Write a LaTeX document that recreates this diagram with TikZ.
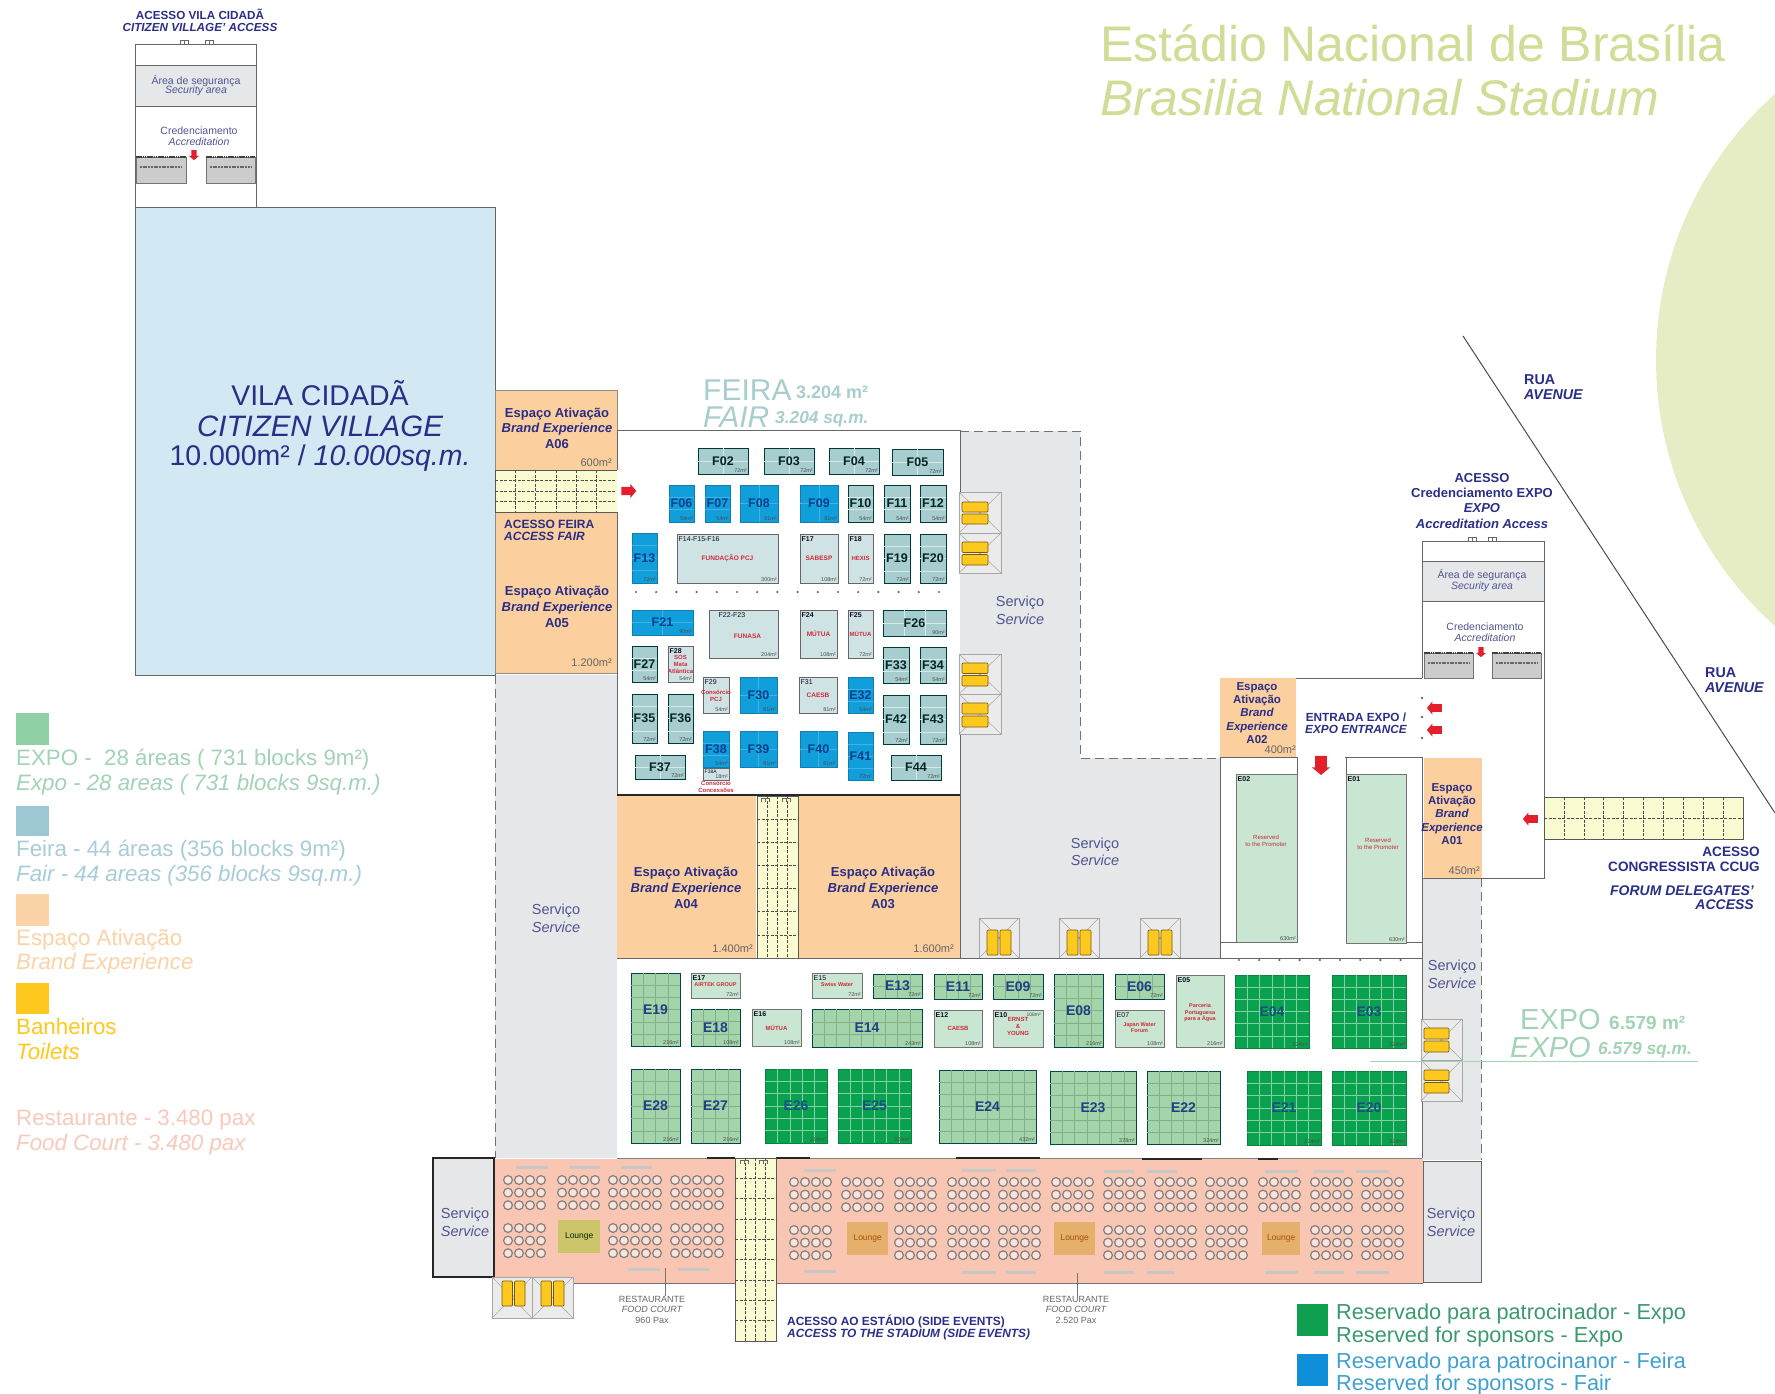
\documentclass[tikz,border=0pt]{standalone}
\usepackage{fontspec}
\setmainfont{Liberation Sans}
\usetikzlibrary{shapes.arrows}
\definecolor{navyc}{HTML}{2A2E86}
\definecolor{svcc}{HTML}{4F5591}
\definecolor{titlec}{HTML}{CFDD96}
\definecolor{circc}{HTML}{E6ECC4}
\definecolor{greyc}{HTML}{E6E7E9}
\definecolor{wallc}{HTML}{666666}
\definecolor{orangec}{HTML}{FBCF9E}
\definecolor{villc}{HTML}{D2E9F3}
\definecolor{pinkc}{HTML}{F9C6B3}
\definecolor{crossc}{HTML}{FBFBD2}
\definecolor{wcc}{HTML}{FFC81E}
\definecolor{redc}{HTML}{E2202C}
\definecolor{redt}{HTML}{CF2A3A}
\newcommand\szf[1]{\fontsize{#1}{#1}\selectfont\setlength\baselineskip{1.17\dimexpr#1pt\relax}}
\tikzset{
 x=1pt,y=-1pt,
 navb/.style={text=navyc,inner sep=0pt,align=center,font={\szf{#1}\bfseries}},
 navi/.style={text=navyc,inner sep=0pt,align=center,font={\szf{#1}\bfseries\itshape}},
 svc/.style={text=svcc,inner sep=0pt,align=center,font={\szf{#1}}},
 svci/.style={text=svcc,inner sep=0pt,align=center,font={\szf{#1}\itshape}},
 arealab/.style={text=black!70,inner sep=0pt,font={\szf{#1}}},
 redl/.style={text=redt,inner sep=0pt,align=center,font={\szf{#1}\bfseries}},
 wall/.style={draw=wallc,line width=1pt},
 dashedge/.style={draw=black!55,line width=1pt,dash pattern=on 9pt off 5pt},
 fairS/.style={fill=fairsc,draw=black!55!teal,line width=.8pt},
 fairSgrid/.style={draw=white!55!fairsc,line width=.5pt},
 fairSlbl/.style={text=black!70!teal,inner sep=0pt,font={\szf{12.5}\bfseries}},
 fairB/.style={fill=fairbc,draw=fairbc!80!black,line width=.8pt},
 fairBgrid/.style={draw=fairbc!80!white,line width=.4pt},
 fairBlbl/.style={text=black!40!blue!50!teal,inner sep=0pt,font={\szf{12.5}\bfseries}},
 fairL/.style={fill=fairlc,draw=black!60,line width=.8pt},
 fairLgrid/.style={},
 fairLlbl/.style={},
 expoM/.style={fill=expomc,draw=black!45!teal,line width=.7pt},
 expoMgrid/.style={draw=expomc!82!black,line width=.35pt},
 expoMlbl/.style={text=navyc!80!teal,inner sep=0pt,font={\szf{14}\bfseries}},
 expoD/.style={fill=expodc,draw=expodc!80!black,line width=.7pt},
 expoDgrid/.style={draw=white!50!expodc,line width=.45pt},
 expoDlbl/.style={text=navyc!60!teal,inner sep=0pt,font={\szf{14}\bfseries}},
 expoL/.style={fill=expolc,draw=black!55,line width=.7pt},
 expoLgrid/.style={},
 expoLlbl/.style={},
 redarrow/.style={single arrow,fill=redc,draw=none,inner sep=0pt,text width=#1,text height=#1,text depth=0pt,single arrow head extend=2.5pt,single arrow tip angle=100},
 crossbox/.style={fill=crossc,draw=black!65,line width=.6pt},
 crossline/.style={draw=black!70,line width=.6pt,dash pattern=on 3pt off 1.5pt},
 wcbox/.style={fill=white!92!black,draw=black!35,line width=.6pt},
 wcline/.style={draw=black!35,line width=.5pt},
 wcfill/.style={fill=wcc,draw=black!55!wcc,line width=.7pt,rounded corners=1pt},
 tableC/.style={draw=black!50,fill=pinkc!50!white,line width=1.2pt},
 barc/.style={fill=black!22,draw=none},
 loungeA/.style={fill=loungea,draw=none,text=black!60!green!40!black,font={\szf{8.5}}},
 loungeB/.style={fill=loungeb,draw=none,text=black!35!orange,font={\szf{8.5}}},
 leader/.style={draw=black!55,line width=.6pt},
 ticketb/.style={fill=black!20,draw=black!55,line width=.6pt},
 legsq/.style={draw=none,inner sep=0pt,anchor=north west},
 legt/.style={inner sep=0pt,anchor=west,font={\szf{22.3}}},
 legi/.style={inner sep=0pt,anchor=west,font={\szf{22.3}\itshape}},
 legb/.style={inner sep=0pt,anchor=west,font={\szf{21.7}}},
}
\definecolor{fairsc}{HTML}{A8CDCF}
\definecolor{fairbc}{HTML}{119FDC}
\definecolor{fairlc}{HTML}{D0E3E4}
\definecolor{expomc}{HTML}{A3D4AA}
\definecolor{expodc}{HTML}{0AA24E}
\definecolor{expolc}{HTML}{C8E6D1}
\definecolor{loungea}{HTML}{CDC569}
\definecolor{loungeb}{HTML}{E5AF6C}
\definecolor{legexpo}{HTML}{8FD0A5}
\definecolor{legexpot}{HTML}{A2D3B5}
\definecolor{legfair}{HTML}{9CC7D3}
\definecolor{legfairt}{HTML}{A8CCD8}
\definecolor{legor}{HTML}{FBD3A6}
\definecolor{legrest}{HTML}{F9C9BA}
\definecolor{resgt}{HTML}{3A9A6E}
\definecolor{resbt}{HTML}{3FA0D0}
\definecolor{resg}{HTML}{0E9F4F}
\definecolor{resb}{HTML}{0F8FD8}
% stand: name x0 y0 x1 y1 style step label area
\newcommand{\stand}[9]{%
 \pgfmathsetmacro{\sw}{#4-#2}\pgfmathsetmacro{\sh}{#5-#3}%
 \node[#6,anchor=north west,minimum width=\sw pt,minimum height=\sh pt,inner sep=0pt,outer sep=0pt] (#1) at (#2,#3) {};
 \ifnum#7>0
  \pgfmathsetmacro{\ys}{#7<20 ? #7 : #7/2}%
  \pgfmathtruncatemacro{\nc}{max(round(\sw/#7),1)}%
  \pgfmathtruncatemacro{\nr}{max(round(\sh/\ys),1)}%
  \foreach \i in {1,...,\nc}{\ifnum\i<\nc \pgfmathsetmacro{\xx}{#2+\i*\sw/\nc}\draw[#6grid] (\xx,#3) -- (\xx,#5);\fi}
  \foreach \i in {1,...,\nr}{\ifnum\i<\nr \pgfmathsetmacro{\yy}{#3+\i*\sh/\nr}\draw[#6grid] (#2,\yy) -- (#4,\yy);\fi}
  \node[#6lbl] (#1t) at (#1.center) {#8};
 \else
  \node[navb=7,anchor=north west,text=black!75!navyc] (#1t) at ([xshift=1.5pt,yshift=-2pt]#1.north west) {#8};
 \fi
 \node[arealab=5.5,anchor=south east] (#1a) at ([xshift=-1pt,yshift=1.5pt]#1.south east) {#9};
}
% crossing: name x0 y0 x1 y1 cols rows
\newcommand{\crossing}[7]{%
 \pgfmathsetmacro{\sw}{#4-#2}\pgfmathsetmacro{\sh}{#5-#3}%
 \node[crossbox,anchor=north west,minimum width=\sw pt,minimum height=\sh pt,inner sep=0pt,outer sep=0pt] (#1) at (#2,#3) {};
 \foreach \i in {1,...,#6}{\ifnum\i<#6 \pgfmathsetmacro{\xx}{#2+\i*\sw/#6}\draw[crossline] (\xx,#3) -- (\xx,#5);\fi}
 \foreach \i in {1,...,#7}{\ifnum\i<#7 \pgfmathsetmacro{\yy}{#3+\i*\sh/#7}\draw[crossline] (#2,\yy) -- (#4,\yy);\fi}
}
\newcommand{\wch}[9]{%
 \pgfmathsetmacro{\sw}{#4-#2}\pgfmathsetmacro{\sh}{#5-#3}%
 \node[wcbox,anchor=north west,minimum width=\sw pt,minimum height=\sh pt,inner sep=0pt,outer sep=0pt] (#1) at (#2,#3) {};
 \draw[wcline] (#1.north west) -- (#1.south east) (#1.north east) -- (#1.south west);
 \pgfmathsetmacro{\ym}{(#7+#9)/2}%
 \fill[wcfill] (#6,#7) rectangle (#8,\ym-1);
 \fill[wcfill] (#6,\ym+1) rectangle (#8,#9);
}
\newcommand{\wcv}[9]{%
 \pgfmathsetmacro{\sw}{#4-#2}\pgfmathsetmacro{\sh}{#5-#3}%
 \node[wcbox,anchor=north west,minimum width=\sw pt,minimum height=\sh pt,inner sep=0pt,outer sep=0pt] (#1) at (#2,#3) {};
 \draw[wcline] (#1.north west) -- (#1.south east) (#1.north east) -- (#1.south west);
 \pgfmathsetmacro{\xm}{(#6+#8)/2}%
 \fill[wcfill] (#6,#7) rectangle (\xm-1,#9);
 \fill[wcfill] (\xm+1,#7) rectangle (#8,#9);
}
% tables: x y cols (three rows)
\newcommand{\tbl}[3]{%
 \foreach \r in {0,1,2}{\foreach \c in {1,...,#3}{\draw[tableC] ({#1+(\c-1)*11+5},{#2+\r*12.6}) circle [radius=4.4];}}
}
\newcommand{\ticket}[5]{%
 \pgfmathsetmacro{\sw}{#4-#2}\pgfmathsetmacro{\sh}{#5-#3}%
 \node[ticketb,anchor=north west,minimum width=\sw pt,minimum height=\sh pt,inner sep=0pt,outer sep=0pt] (#1) at (#2,#3) {};
 \draw[black!75,line width=1.6pt,dash pattern=on 1.5pt off .7pt] (#1.north west) -- (#1.north east);
 \draw[black!60,line width=1.3pt,dash pattern=on 2pt off .7pt] ([xshift=4pt,yshift=-10pt]#1.north west) -- ([xshift=-4pt,yshift=-10pt]#1.north east);
}
\newcommand{\doors}[2]{%
 \draw[black!60,line width=.6pt] (#1,#2) -- (#1,#2-4) -- (#1+4,#2-4) -- (#1+4,#2) (#1+4,#2-4) -- (#1+8,#2-4) -- (#1+8,#2);
}
\begin{document}
\begin{tikzpicture}
\useasboundingbox (0,0) rectangle (1775,1393);
\fill[white] (0,0) rectangle (1775,1393);
% big circle
\begin{scope}
\clip (0,0) rectangle (1775,1393);
\fill[circc] (2013,360) circle [radius=357];
\end{scope}
% titles
\node[anchor=west,inner sep=0pt,text=titlec,font={\szf{50}}] (title1) at (1100,43) {Estádio Nacional de Brasília};
\node[anchor=west,inner sep=0pt,text=titlec,font={\szf{50}\itshape}] (title2) at (1100,98) {Brasilia National Stadium};
% avenue line
\coordinate (av1) at (1463,336); \coordinate (av2) at (1775,813);
\draw[black!70,line width=1pt] (av1) -- (av2);
\node[navb=14.3,align=left,anchor=west] (rua1a) at (1524,380) {RUA};
\node[navi=14.3,anchor=west] (rua1b) at (1524,395) {AVENUE};
\node[navb=14.3,anchor=west] (rua2a) at (1705,673) {RUA};
\node[navi=14.3,anchor=west] (rua2b) at (1705,688) {AVENUE};
% grey service
\fill[greyc] (495,675) rectangle (617,1158);
\fill[greyc] (960,431) -- (1080,431) -- (1080,758) -- (1220,758) -- (1220,958) -- (960,958) -- cycle;
\fill[greyc] (1422,878) rectangle (1481,1160);
\draw[dashedge] (495,675) -- (495,1158);
\draw[dashedge] (960,431) -- (1080,431) -- (1080,758) -- (1220,758);
\draw[dashedge] (1481,878) -- (1481,1160);
% citizen village & access
\node[fill=villc,draw=black!60,line width=.8pt,anchor=north west,minimum width=360pt,minimum height=468pt,inner sep=0pt,outer sep=0pt] (village) at (135,207) {};
\node[inner sep=0pt,text=navyc,font={\szf{28.5}}] (vill1) at (320,393) {VILA CIDADÃ};
\node[inner sep=0pt,text=navyc,font={\szf{29.5}\itshape}] (vill2) at (320,426) {CITIZEN VILLAGE};
\node[inner sep=0pt,text=navyc,font={\szf{28.5}}] (vill3) at (320,458) {10.000m² / \textit{10.000sq.m.}};
\draw[wall] (135,44) rectangle (256,207);
\node[fill=greyc,draw=black!60,line width=.8pt,anchor=north west,minimum width=121pt,minimum height=41pt,inner sep=0pt,outer sep=0pt] (sec1) at (135,65) {};
\node[svc=10.5] at (196,81) {Área de segurança};
\node[svci=10.5] at (196,91) {Security area};
\node[svc=10.5] at (199,131) {Credenciamento};
\node[svci=10.5] at (199,142) {Accreditation};
\ticket{tk1}{136}{157}{186}{183}
\ticket{tk2}{206}{157}{255}{183}
\node[redarrow=5pt,minimum height=10pt,minimum width=9pt,shape border rotate=270] (ar1) at (194,154) {};
\node[navb=11.7] (acc1) at (200,14) {ACESSO VILA CIDADÃ};
\node[navi=11.7] (acc2) at (200,27) {CITIZEN VILLAGE' ACCESS};
\doors{180}{44}\doors{205}{44}
% orange A06/A05
\node[fill=orangec,draw=black!45,line width=.6pt,anchor=north west,minimum width=122pt,minimum height=283pt,inner sep=0pt,outer sep=0pt] (a06) at (495,390) {};
\crossing{cr1}{495}{470}{617}{512}{6}{4}
\node[navb=13] at (557,414) {Espaço Ativação};
\node[navi=13] at (557,429) {Brand Experience};
\node[navb=13] at (557,444) {A06};
\node[svc=11,anchor=east,text=black!60] at (612,463) {600m²};
\node[navb=12,anchor=west] at (504,524) {ACESSO FEIRA};
\node[navi=12,anchor=west] at (504,536) {ACCESS FAIR};
\node[navb=13] at (557,592) {Espaço Ativação};
\node[navi=13] at (557,608) {Brand Experience};
\node[navb=13] at (557,623) {A05};
\node[svc=11,anchor=east,text=black!60] at (612,663) {1.200m²};
% fair floor
\node[fill=white,draw=none,anchor=north west,minimum width=343pt,minimum height=365pt,inner sep=0pt,outer sep=0pt] (fair) at (617,430) {};
\draw[wall] (617,430) -- (960,430) -- (960,500);
\draw[wall] (960,690) -- (960,958);
\draw[wall] (617,430) -- (617,470) (617,512) -- (617,958);
\node[redarrow=7pt,minimum height=15pt,minimum width=14pt] (ar2) at (627,491) {};
\node[anchor=west,inner sep=0pt,text=fairsc,font={\szf{30}}] (ft1) at (703,390) {FEIRA};
\node[anchor=west,inner sep=0pt,text=fairsc,font={\szf{18}\bfseries}] (ft1b) at (796,392) {3.204 m²};
\node[anchor=west,inner sep=0pt,text=fairsc,font={\szf{30}\itshape}] (ft2) at (703,417) {FAIR};
\node[anchor=west,inner sep=0pt,text=fairsc,font={\szf{17.3}\bfseries\itshape}] (ft2b) at (775,419) {3.204 sq.m.};
% fair stands
\stand{f02}{698}{448}{748}{474}{fairS}{25}{F02}{72m²}
\stand{f03}{764}{448}{814}{474}{fairS}{25}{F03}{72m²}
\stand{f04}{829}{448}{879}{474}{fairS}{25}{F04}{72m²}
\stand{f05}{892}{449}{943}{475}{fairS}{25}{F05}{72m²}
\stand{f06}{669}{485}{694}{522}{fairB}{25}{F06}{54m²}
\stand{f07}{705}{485}{730}{522}{fairB}{25}{F07}{54m²}
\stand{f08}{740}{485}{778}{522}{fairB}{19}{F08}{81m²}
\stand{f09}{800}{485}{838}{522}{fairB}{19}{F09}{81m²}
\stand{f10}{848}{485}{873}{522}{fairS}{25}{F10}{54m²}
\stand{f11}{884}{485}{910}{522}{fairS}{25}{F11}{54m²}
\stand{f12}{920}{485}{946}{522}{fairS}{25}{F12}{54m²}
\stand{f13}{632}{533}{657}{583}{fairB}{25}{F13}{72m²}
\stand{f14}{677}{534}{778}{583}{fairL}{0}{\mdseries F14-F15-F16}{300m²}
\node[redl=6.5] at (f14.center) {FUNDAÇÃO PCJ};
\stand{f17}{800}{534}{838}{583}{fairL}{0}{F17}{108m²}
\node[redl=6.5] at (f17.center) {SABESP};
\stand{f18}{848}{534}{873}{583}{fairL}{0}{F18}{72m²}
\node[redl=6] at (f18.center) {HEXIS};
\stand{f19}{884}{534}{910}{583}{fairS}{25}{F19}{72m²}
\stand{f20}{920}{534}{946}{583}{fairS}{25}{F20}{72m²}
\foreach \i in {0,...,15}{\fill[black!60] ({636+\i*20.2},592) circle [radius=1.2];}
\stand{f21}{632}{610}{693}{635}{fairB}{25}{F21}{90m²}
\stand{f22}{709}{610}{778}{658}{fairL}{0}{\mdseries\hspace{8pt}\raisebox{-5pt}{F22-F23}}{204m²}
\node[redl=6.5] at ([xshift=4pt,yshift=-2pt]f22.center) {FUNASA};
\stand{f24}{800}{610}{837}{658}{fairL}{0}{F24}{108m²}
\node[redl=6.5] at (f24.center) {MÚTUA};
\stand{f25}{848}{610}{873}{658}{fairL}{0}{F25}{72m²}
\node[redl=6] at (f25.center) {MÚTUA};
\stand{f26}{883}{610}{946}{636}{fairS}{25}{F26}{90m²}
\stand{f27}{632}{646}{657}{682}{fairS}{25}{F27}{54m²}
\stand{f28}{668}{646}{693}{682}{fairL}{0}{F28}{54m²}
\node[redl=6] at (f28.center) {SOS\\Mata\\Atlântica};
\stand{f29}{703}{677}{729}{713}{fairL}{0}{\mdseries F29}{54m²}
\node[redl=6] at ([yshift=-1pt]f29.center) {Consórcio\\PCJ};
\stand{f30}{740}{677}{777}{713}{fairB}{19}{F30}{81m²}
\stand{f31}{799}{677}{837}{713}{fairL}{0}{\mdseries F31}{81m²}
\node[redl=6.5] at (f31.center) {CAESB};
\stand{f32}{848}{677}{873}{713}{fairB}{25}{E32}{54m²}
\stand{f33}{883}{647}{909}{683}{fairS}{25}{F33}{54m²}
\stand{f34}{920}{647}{946}{683}{fairS}{25}{F34}{54m²}
\stand{f35}{632}{694}{657}{743}{fairS}{25}{F35}{72m²}
\stand{f36}{668}{694}{693}{743}{fairS}{25}{F36}{72m²}
\stand{f38}{703}{731}{729}{767}{fairB}{25}{F38}{54m²}
\stand{f38a}{703}{768}{729}{780}{fairL}{0}{\mdseries\szf{5}F38A}{18m²}
\node[redl=6,anchor=north] at ([yshift=-1pt]f38a.south) {Consórcio\\Concessões};
\stand{f39}{740}{731}{777}{767}{fairB}{19}{F39}{81m²}
\stand{f40}{800}{731}{837}{767}{fairB}{19}{F40}{81m²}
\stand{f41}{848}{732}{873}{780}{fairB}{25}{F41}{72m²}
\stand{f37}{635}{755}{685}{779}{fairS}{25}{F37}{72m²}
\stand{f42}{883}{695}{909}{744}{fairS}{25}{F42}{72m²}
\stand{f43}{920}{695}{946}{744}{fairS}{25}{F43}{72m²}
\stand{f44}{891}{755}{941}{780}{fairS}{25}{F44}{72m²}
% fair toilets
\wch{wc1}{959}{492}{1001}{533}{962}{502}{988}{524}
\wch{wc2}{959}{533}{1001}{573}{962}{542}{988}{565}
\wch{wc3}{959}{654}{1001}{694}{962}{663}{988}{686}
\wch{wc4}{959}{694}{1001}{734}{962}{703}{988}{727}
\node[svc=14.5] at (1020,603) {Serviço};
\node[svci=14.5] at (1020,619) {Service};
\node[svc=14.5] at (1095,845) {Serviço};
\node[svci=14.5] at (1095,860) {Service};
\node[svc=14.5] at (556,911) {Serviço};
\node[svci=14.5] at (556,927) {Service};
% A04 A03
\node[fill=orangec,draw=none,anchor=north west,minimum width=139pt,minimum height=162pt,inner sep=0pt,outer sep=0pt] (a04) at (617,796) {};
\node[fill=orangec,draw=none,anchor=north west,minimum width=162pt,minimum height=162pt,inner sep=0pt,outer sep=0pt] (a03) at (798,796) {};
\crossing{cr2}{757}{796}{798}{958}{4}{7}
\draw[black!85,line width=1.8pt] (617,795) -- (960,795);
\doors{761}{802}\doors{782}{802}
\node[navb=13] at (686,873) {Espaço Ativação};
\node[navi=13] at (686,889) {Brand Experience};
\node[navb=13] at (686,904) {A04};
\node[navb=13] at (883,873) {Espaço Ativação};
\node[navi=13] at (883,889) {Brand Experience};
\node[navb=13] at (883,904) {A03};
\node[svc=11,anchor=east,text=black!60] at (753,949) {1.400m²};
\node[svc=11,anchor=east,text=black!60] at (954,949) {1.600m²};
\wcv{wc5}{979}{918}{1019}{958}{987}{930}{1011}{955}
\wcv{wc6}{1059}{918}{1099}{958}{1067}{930}{1091}{955}
\wcv{wc7}{1140}{918}{1180}{958}{1148}{930}{1172}{955}
% expo floor
\fill[white] (617,958) rectangle (1422,1158);
\fill[white] (1220,757) rectangle (1422,958);
\fill[white] (1422,678) rectangle (1544,878);
\fill[white] (1220,678) rectangle (1422,757);
\draw[wall] (617,958) -- (1220,958);
\draw[wall] (1220,958) -- (1422,958);
\draw[wall] (1220,757) -- (1220,958);
\draw[wall] (1422,757) -- (1422,1158);
\draw[wall] (1220,757) -- (1297,757) (1345,757) -- (1422,757);
\draw[wall] (1297,757) -- (1297,942) (1346,757) -- (1346,942);
\draw[wall] (1220,678) -- (1422,678);
\draw[wall] (1422,541) -- (1422,678);
\draw[wall] (1422,541) -- (1544,541) -- (1544,878) -- (1422,878);
\draw[wall] (1220,942) -- (1297,942) (1346,942) -- (1422,942);
% expo stands
\stand{e19}{631}{973}{680}{1046}{expoM}{12}{E19}{216m²}
\stand{e17}{691}{973}{740}{998}{expoL}{0}{E17}{72m²}
\node[redl=5.5] at ([yshift=1pt]e17.center) {AIRTEK GROUP};
\stand{e18}{691}{1009}{740}{1046}{expoM}{12}{E18}{108m²}
\stand{e16}{752}{1009}{801}{1046}{expoL}{0}{E16}{108m²}
\node[redl=6] at (e16.center) {MÚTUA};
\stand{e15}{812}{973}{862}{998}{expoL}{0}{\mdseries E15}{72m²}
\node[redl=5.5] at ([yshift=1pt]e15.center) {Swiss Water};
\stand{e14}{812}{1009}{922}{1047}{expoM}{12}{E14}{243m²}
\stand{e13}{873}{974}{922}{998}{expoM}{12}{E13}{72m²}
\stand{e12}{934}{1010}{982}{1047}{expoL}{0}{E12}{108m²}
\node[redl=6] at (e12.center) {CAESB};
\stand{e11}{934}{974}{982}{999}{expoM}{12}{E11}{72m²}
\stand{e10}{993}{1010}{1043}{1047}{expoL}{0}{E10}{}
\node[arealab=5,anchor=north east] at ([xshift=-2pt,yshift=-3pt]e10.north east) {108m²};
\node[redl=6] at ([yshift=2pt]e10.center) {ERNST\\\&\\YOUNG};
\stand{e09}{993}{974}{1043}{999}{expoM}{12}{E09}{72m²}
\stand{e08}{1054}{974}{1103}{1047}{expoM}{12}{E08}{216m²}
\stand{e06}{1115}{974}{1164}{999}{expoM}{12}{E06}{72m²}
\stand{e07}{1115}{1010}{1164}{1047}{expoL}{0}{\mdseries E07}{108m²}
\node[redl=5.5] at ([yshift=1pt]e07.center) {Japan Water\\Forum};
\stand{e05}{1176}{975}{1224}{1047}{expoL}{0}{E05}{216m²}
\node[redl=5.5] at ([yshift=-2pt]e05.center) {Parceria\\Portuguesa\\para a Água};
\stand{e04}{1235}{975}{1309}{1048}{expoD}{12}{E04}{324m²}
\stand{e03}{1332}{975}{1406}{1048}{expoD}{12}{E03}{324m²}
\stand{e28}{631}{1069}{680}{1143}{expoM}{12}{E28}{216m²}
\stand{e27}{691}{1069}{740}{1143}{expoM}{12}{E27}{216m²}
\stand{e26}{765}{1069}{827}{1143}{expoD}{12}{E26}{216m²}
\stand{e25}{838}{1069}{911}{1143}{expoD}{12}{E25}{324m²}
\stand{e24}{939}{1070}{1036}{1143}{expoM}{12}{E24}{432m²}
\stand{e23}{1050}{1071}{1136}{1144}{expoM}{12}{E23}{378m²}
\stand{e22}{1147}{1071}{1220}{1144}{expoM}{12}{E22}{324m²}
\stand{e21}{1247}{1071}{1321}{1145}{expoD}{12}{E21}{324m²}
\stand{e20}{1332}{1071}{1406}{1145}{expoD}{12}{E20}{324m²}
\foreach \i in {0,...,8}{\fill[black!60] ({1239+\i*20.2},960) circle [radius=1.2];}
% promoter areas and A02 A01
\stand{e02}{1236}{774}{1297}{942}{expoL}{0}{E02}{630m²}
\stand{e01}{1346}{774}{1406}{943}{expoL}{0}{E01}{630m²}
\node[redl=5.5,font={\szf{6}}] at (1266,841) {Reserved\\to the Promoter};
\node[redl=5.5,font={\szf{6}}] at (1378,844) {Reserved\\to the Promoter};
\node[fill=orangec,draw=none,anchor=north west,minimum width=76pt,minimum height=79pt,inner sep=0pt,outer sep=0pt] (a02) at (1220,678) {};
\node[navb=11.5] at (1257,713) {Espaço\\Ativação\\\textit{Brand}\\\textit{Experience}\\A02};
\node[svc=11,anchor=east,text=black!60] at (1296,750) {400m²};
\node[fill=orangec,draw=none,anchor=north west,minimum width=58pt,minimum height=120pt,inner sep=0pt,outer sep=0pt] (a01) at (1424,758) {};
\node[navb=11.5] at (1452,814) {Espaço\\Ativação\\\textit{Brand}\\\textit{Experience}\\A01};
\node[svc=11,anchor=east,text=black!60] at (1480,871) {450m²};
\node[navb=11.8] at (1356,717) {ENTRADA EXPO /};
\node[navi=11.8] at (1356,729) {EXPO ENTRANCE};
\foreach \yy in {698,717,738}{\fill[black!60] (1422,\yy) circle [radius=1.3];}
\node[redarrow=7pt,minimum height=15pt,minimum width=13pt,shape border rotate=180] (ar3) at (1436,708) {};
\node[redarrow=7pt,minimum height=15pt,minimum width=13pt,shape border rotate=180] (ar4) at (1436,730) {};
\node[redarrow=9pt,minimum height=19pt,minimum width=18pt,shape border rotate=270] (ar5) at (1321,763) {};
\node[redarrow=7pt,minimum height=15pt,minimum width=13pt,shape border rotate=180] (ar6) at (1532,819) {};
% expo access
\node[fill=greyc,draw=black!60,line width=.8pt,anchor=north west,minimum width=122pt,minimum height=40pt,inner sep=0pt,outer sep=0pt] (sec2) at (1422,561) {};
\node[svc=10.5] at (1482,575) {Área de segurança};
\node[svci=10.5] at (1482,587) {Security area};
\node[svc=10.5] at (1485,627) {Credenciamento};
\node[svci=10.5] at (1485,638) {Accreditation};
\ticket{tk3}{1424}{653}{1473}{678}
\ticket{tk4}{1492}{653}{1541}{678}
\node[redarrow=5pt,minimum height=10pt,minimum width=9pt,shape border rotate=270] (ar7) at (1481,651) {};
\node[navb=13] at (1482,478) {ACESSO};
\node[navb=13] at (1482,493) {Credenciamento EXPO};
\node[navi=13] at (1482,508) {EXPO};
\node[navi=13] at (1482,524) {Accreditation Access};
\doors{1468}{541}\doors{1488}{541}
\crossing{cr3}{1544}{797}{1743}{839}{10}{2}
\node[navb=13.6,anchor=east] at (1760,852) {ACESSO};
\node[navb=13.6,anchor=east] at (1760,867) {CONGRESSISTA CCUG};
\node[navi=14,anchor=east] at (1754,891) {FORUM DELEGATES'};
\node[navi=14,anchor=east] at (1754,905) {ACCESS};
% right service
\node[svc=14.5] at (1452,967) {Serviço};
\node[svci=14.5] at (1452,983) {Service};
\wch{wc8}{1421}{1019}{1462}{1060}{1424}{1028}{1449}{1052}
\wch{wc9}{1421}{1060}{1462}{1101}{1424}{1070}{1449}{1093}
\coordinate (gl1) at (1370,1061); \coordinate (gl2) at (1698,1061);
\draw[draw=legexpot,line width=.9pt] (gl1) -- (gl2);
\node[anchor=west,inner sep=0pt,text=legexpot,font={\szf{29}}] (xt1) at (1520,1020) {EXPO};
\node[anchor=west,inner sep=0pt,text=legexpot,font={\szf{19}\bfseries}] (xt1b) at (1609,1023) {6.579 m²};
\node[anchor=west,inner sep=0pt,text=legexpot,font={\szf{29}\itshape}] (xt2) at (1510,1047) {EXPO};
\node[anchor=west,inner sep=0pt,text=legexpot,font={\szf{17.4}\bfseries\itshape}] (xt2b) at (1598,1050) {6.579 sq.m.};
% restaurant
\node[fill=pinkc,draw=none,anchor=north west,minimum width=929pt,minimum height=124pt,inner sep=0pt,outer sep=0pt] (rest) at (494,1159) {};
\node[fill=greyc,draw=black!85,line width=1.5pt,anchor=north west,minimum width=61pt,minimum height=119pt,inner sep=0pt,outer sep=0pt] (sv1) at (433,1158) {};
\node[fill=greyc,draw=black!60,line width=1pt,anchor=north west,minimum width=58pt,minimum height=121pt,inner sep=0pt,outer sep=0pt] (sv2) at (1423,1161) {};
\node[svc=14.5] at (465,1215) {Serviço};
\node[svci=14.5] at (465,1231) {Service};
\node[svc=14.5] at (1451,1215) {Serviço};
\node[svci=14.5] at (1451,1231) {Service};
\draw[black!50,line width=.8pt] (617,1158) -- (1422,1158) ;
\draw[black!85,line width=1.5pt] (707,1158) -- (735,1158) (776,1158) -- (810,1158) (956,1158) -- (1040,1158) (1142,1159) -- (1202,1159) (1258,1159) -- (1278,1159);
\draw[black!55,line width=1pt] (494,1283) -- (735,1283) (776,1283) -- (1423,1283);
\crossing{cr4}{735}{1158}{776}{1341}{4}{9}
\doors{740}{1164}\doors{759}{1164}
\foreach \a/\b/\yy in {516/548/1167,569/600/1167,621/652/1167,804/836/1170,962/996/1170,1006/1036/1170,1104/1134/1171,1147/1177/1171,1265/1298/1171,1314/1344/1171,1356/1389/1171,628/660/1269,678/709/1269,804/836/1271,962/996/1272,1006/1036/1272,1104/1134/1272,1147/1175/1272,1265/1298/1272,1314/1344/1272,1356/1389/1272}{\fill[barc] (\a,\yy-1.5) rectangle (\b,\yy+1.5);}
\tbl{503}{1180}{4}\tbl{557}{1180}{4}\tbl{608}{1180}{5}\tbl{670}{1180}{5}
\tbl{503}{1228}{4}\tbl{608}{1228}{5}\tbl{670}{1228}{5}
\foreach \xx in {789,841,894,947,998,1051,1103,1154,1205,1258,1310,1361}{\tbl{\xx}{1182}{4}}
\foreach \xx in {789,894,947,998,1103,1154,1205,1310,1361}{\tbl{\xx}{1230}{4}}
\node[loungeA,anchor=north west,minimum width=42pt,minimum height=33pt,inner sep=0pt] (lg1) at (558,1220) {Lounge};
\node[loungeB,anchor=north west,minimum width=41pt,minimum height=33pt,inner sep=0pt] (lg2) at (847,1222) {Lounge};
\node[loungeB,anchor=north west,minimum width=41pt,minimum height=33pt,inner sep=0pt] (lg3) at (1054,1222) {Lounge};
\node[loungeB,anchor=north west,minimum width=38pt,minimum height=33pt,inner sep=0pt] (lg4) at (1262,1222) {Lounge};
\wcv{wc10}{492}{1277}{532}{1318}{502}{1281}{525}{1306}
\wcv{wc11}{532}{1277}{573}{1318}{541}{1281}{564}{1306}
% restaurant labels
\node[svc=9,text=black!60] (r1a) at (652,1299) {RESTAURANTE};
\node[svci=9,text=black!60] (r1b) at (652,1309) {FOOD COURT};
\node[svc=9,text=black!60] (r1c) at (652,1320) {960 Pax};
\coordinate (r1top) at (665,1268);
\draw[leader] ([xshift=13pt]r1a.north) -- (r1top);
\node[svc=9,text=black!60] (r2a) at (1076,1299) {RESTAURANTE};
\node[svci=9,text=black!60] (r2b) at (1076,1309) {FOOD COURT};
\node[svc=9,text=black!60] (r2c) at (1076,1320) {2.520 Pax};
\coordinate (r2top) at (1077,1273);
\draw[leader] ([xshift=1pt]r2a.north) -- (r2top);
\node[navb=11.9,anchor=west] (st1) at (787,1321) {ACESSO AO ESTÁDIO (SIDE EVENTS)};
\node[navi=11.9,anchor=west] (st2) at (787,1334) {ACCESS TO THE STADIUM (SIDE EVENTS)};
% left legend
\node[legsq,fill=legexpo,minimum width=33pt,minimum height=32pt] (l1) at (16,713) {};
\node[legt,text=legexpot] at (16,760) {EXPO -\ \ 28 áreas ( 731 blocks 9m²)};
\node[legi,text=legexpot] at (16,785) {Expo - 28 areas ( 731 blocks 9sq.m.)};
\node[legsq,fill=legfair,minimum width=33pt,minimum height=30pt] (l2) at (16,806) {};
\node[legt,text=legfairt] at (16,851) {Feira - 44 áreas (356 blocks 9m²)};
\node[legi,text=legfairt] at (16,876) {Fair - 44 areas (356 blocks 9sq.m.)};
\node[legsq,fill=legor,minimum width=33pt,minimum height=32pt] (l3) at (16,894) {};
\node[legt,text=legor] at (16,940) {Espaço Ativação};
\node[legi,text=legor] at (16,964) {Brand Experience};
\node[legsq,fill=wcc,minimum width=33pt,minimum height=31pt] (l4) at (16,983) {};
\node[legt,text=wcc] at (16,1027) {Banheiros};
\node[legi,text=wcc] at (16,1052) {Toilets};
\node[legt,text=legrest] at (16,1120) {Restaurante - 3.480 pax};
\node[legi,text=legrest] at (16,1145) {Food Court - 3.480 pax};
% bottom right legend
\node[legsq,fill=resg,minimum width=31pt,minimum height=32pt] (l5) at (1297,1304) {};
\node[legb,text=resgt] at (1336,1314) {Reservado para patrocinador - Expo};
\node[legb,text=resgt] at (1336,1337) {Reserved for sponsors - Expo};
\node[legsq,fill=resb,minimum width=31pt,minimum height=32pt] (l6) at (1297,1354) {};
\node[legb,text=resbt] at (1336,1363) {Reservado para patrocinanor - Feira};
\node[legb,text=resbt] at (1336,1385) {Reserved for sponsors - Fair};
\end{tikzpicture}
\end{document}
